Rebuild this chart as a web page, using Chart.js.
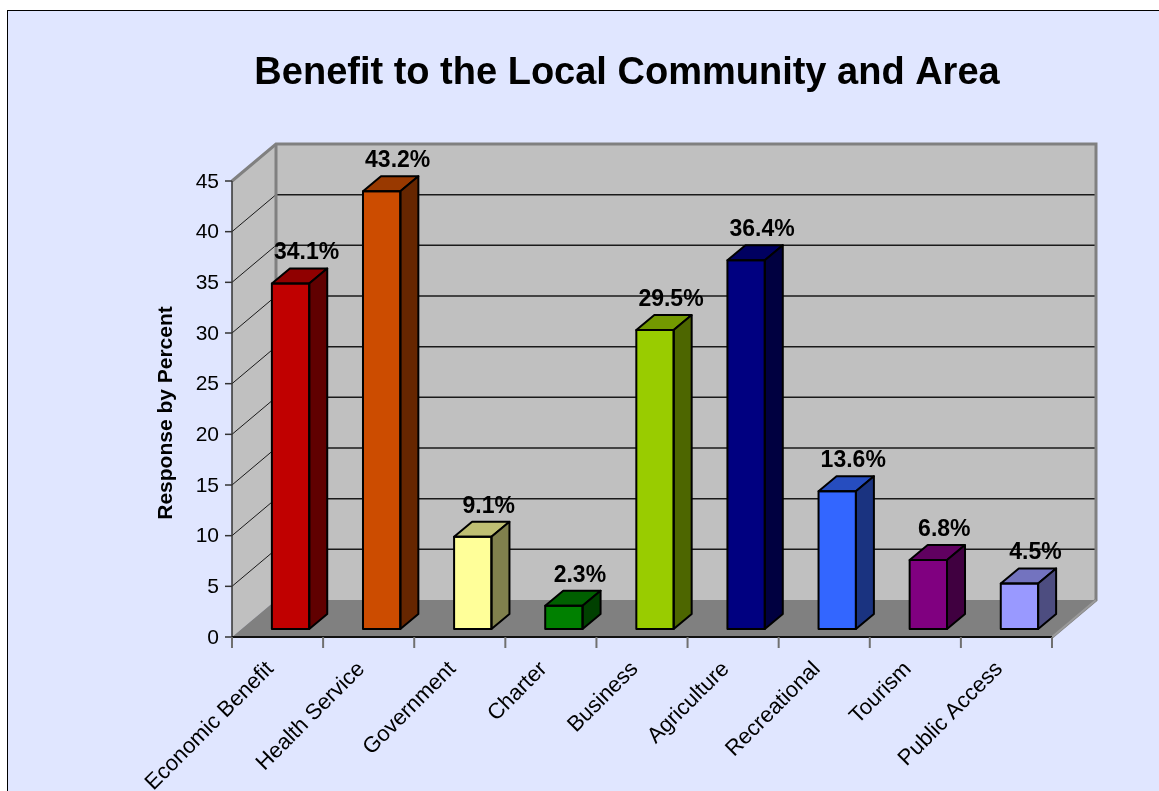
<!DOCTYPE html>
<html>
<head>
<meta charset="utf-8">
<title>Benefit to the Local Community and Area</title>
<script src="https://cdn.jsdelivr.net/npm/chart.js@4"></script>
<style>
    html, body { margin: 0; background: #ffffff; overflow: hidden; }
    #frame {
        position: absolute; left: 7px; top: 10px;
        width: 1170px; height: 800px;
        border: 1px solid #000; background: #e0e6ff;
    }
    #chart { position: absolute; left: 0; top: 0; }
</style>
</head>
<body>
<div id="frame"></div>
<canvas id="chart" width="1159" height="791"></canvas>
<script>
// Data
const categories = ['Economic Benefit', 'Health Service', 'Government', 'Charter', 'Business',
                    'Agriculture', 'Recreational', 'Tourism', 'Public Access'];
const percentValues = [34.1, 43.2, 9.1, 2.3, 29.5, 36.4, 13.6, 6.8, 4.5];
const barColors = ['#c00000', '#cc4c00', '#ffff99', '#008000', '#99cc00',
                   '#000080', '#3366ff', '#800080', '#9999ff'];
const yTicks = [0, 5, 10, 15, 20, 25, 30, 35, 40, 45];

// 3D look (pixels)
const WALL = { dx: 44, dy: -37 };   // depth of the walls
const SHIFT = { dx: 13, dy: -8 };   // bars sit this far behind the front plane
const BAR = { dx: 18, dy: -15 };    // depth of each bar

// darken a hex colour for top / side faces
function shade(hex, f) {
    const n = parseInt(hex.slice(1), 16);
    const r = Math.round(((n >> 16) & 255) * f);
    const g = Math.round(((n >> 8) & 255) * f);
    const b = Math.round((n & 255) * f);
    return `rgb(${r}, ${g}, ${b})`;
}

function poly(ctx, pts, fill, stroke, lw) {
    ctx.beginPath();
    ctx.moveTo(pts[0][0], pts[0][1]);
    for (let i = 1; i < pts.length; i++) ctx.lineTo(pts[i][0], pts[i][1]);
    ctx.closePath();
    if (fill) { ctx.fillStyle = fill; ctx.fill(); }
    if (stroke) { ctx.strokeStyle = stroke; ctx.lineWidth = lw; ctx.stroke(); }
}

function line(ctx, x1, y1, x2, y2, color, lw) {
    ctx.beginPath();
    ctx.moveTo(x1, y1);
    ctx.lineTo(x2, y2);
    ctx.strokeStyle = color;
    ctx.lineWidth = lw;
    ctx.stroke();
}

const box3d = {
    id: 'box3d',
    beforeDatasetsDraw(chart) {
        const ctx = chart.ctx;
        const ca = chart.chartArea;
        const yScale = chart.scales.y;
        const xScale = chart.scales.x;

        // front plane of the plot box
        const L = ca.left - SHIFT.dx;
        const R = ca.right - SHIFT.dx;
        const fy = v => yScale.getPixelForValue(v) - SHIFT.dy;
        const B = fy(0), T = fy(45);

        ctx.save();
        ctx.lineJoin = 'miter';

        // back wall, side wall, floor
        poly(ctx, [[L + WALL.dx, T + WALL.dy], [R + WALL.dx, T + WALL.dy],
                   [R + WALL.dx, B + WALL.dy], [L + WALL.dx, B + WALL.dy]], '#c0c0c0');
        poly(ctx, [[L, T], [L + WALL.dx, T + WALL.dy], [L + WALL.dx, B + WALL.dy], [L, B]], '#c0c0c0');
        poly(ctx, [[L, B], [R, B], [R + WALL.dx, B + WALL.dy], [L + WALL.dx, B + WALL.dy]], '#808080');

        // gridlines
        yTicks.forEach(v => {
            if (v === 0 || v === 45) return;
            const yy = fy(v);
            line(ctx, L + WALL.dx, yy + WALL.dy, R + WALL.dx, yy + WALL.dy, '#1a1a1a', 1.5);
            line(ctx, L, yy, L + WALL.dx, yy + WALL.dy, '#1a1a1a', 1);
        });

        // wall edges
        ctx.beginPath();
        ctx.moveTo(L, T);
        ctx.lineTo(L + WALL.dx, T + WALL.dy);
        ctx.lineTo(R + WALL.dx, T + WALL.dy);
        ctx.lineTo(R + WALL.dx, B + WALL.dy);
        ctx.lineTo(R, B);
        ctx.strokeStyle = '#808080';
        ctx.lineWidth = 3;
        ctx.stroke();
        line(ctx, L + WALL.dx, T + WALL.dy, L + WALL.dx, B + WALL.dy, '#808080', 3);
        line(ctx, R + WALL.dx, B + WALL.dy, R, B, '#9a9a9a', 2);

        // axes
        line(ctx, L, T, L, B, '#333', 1.5);
        line(ctx, L, B, R, B, '#111', 2);

        // y ticks and labels
        ctx.fillStyle = '#000';
        ctx.font = '21px Arial, "Liberation Sans", sans-serif';
        ctx.textAlign = 'right';
        ctx.textBaseline = 'middle';
        yTicks.forEach(v => {
            const yy = fy(v);
            line(ctx, L - 7, yy, L, yy, '#333', 1.5);
            ctx.fillText(String(v), L - 13, yy + 1);
        });

        // x ticks
        const step = (R - L) / categories.length;
        for (let i = 0; i <= categories.length; i++) {
            const xx = L + i * step;
            line(ctx, xx, B, xx, B + 11, '#707070', 2);
        }

        // x labels, rotated
        ctx.font = '22px Arial, "Liberation Sans", sans-serif';
        ctx.textAlign = 'right';
        ctx.textBaseline = 'alphabetic';
        categories.forEach((c, i) => {
            const cx = xScale.getPixelForValue(i) - SHIFT.dx;
            ctx.save();
            ctx.translate(cx - 3, B + 33);
            ctx.rotate(-Math.PI / 4);
            ctx.fillText(c, 0, 0);
            ctx.restore();
        });

        // axis title
        ctx.save();
        ctx.font = 'bold 21px Arial, "Liberation Sans", sans-serif';
        ctx.textAlign = 'center';
        ctx.textBaseline = 'middle';
        ctx.translate(166, 413);
        ctx.rotate(-Math.PI / 2);
        ctx.fillText('Response by Percent', 0, 0);
        ctx.restore();

        // chart title
        ctx.font = 'bold 38px Arial, "Liberation Sans", sans-serif';
        ctx.textAlign = 'center';
        ctx.textBaseline = 'alphabetic';
        ctx.fillText('Benefit to the Local Community and Area', 627, 84);

        ctx.restore();
    },
    afterDatasetsDraw(chart) {
        const ctx = chart.ctx;
        const meta = chart.getDatasetMeta(0);
        ctx.save();
        ctx.lineJoin = 'round';
        meta.data.forEach((el, i) => {
            const { x, y, base, width } = el.getProps(['x', 'y', 'base', 'width'], true);
            const l = x - width / 2, r = x + width / 2;
            const col = barColors[i];
            // top face
            poly(ctx, [[l, y], [r, y], [r + BAR.dx, y + BAR.dy], [l + BAR.dx, y + BAR.dy]],
                 shade(col, 0.75), '#000', 2);
            // side face
            poly(ctx, [[r, y], [r + BAR.dx, y + BAR.dy], [r + BAR.dx, base + BAR.dy], [r, base]],
                 shade(col, 0.5), '#000', 2);
            // front outline
            poly(ctx, [[l, y], [r, y], [r, base], [l, base]], null, '#000', 2);

            // value label
            ctx.fillStyle = '#000';
            ctx.font = 'bold 23px Arial, "Liberation Sans", sans-serif';
            ctx.textAlign = 'center';
            ctx.textBaseline = 'alphabetic';
            ctx.fillText(percentValues[i] + '%', x + 16, y - 24);
        });
        ctx.restore();
    }
};

const ctx = document.getElementById('chart').getContext('2d');
new Chart(ctx, {
    type: 'bar',
    data: {
        labels: categories,
        datasets: [{
            data: percentValues,
            backgroundColor: barColors,
            borderWidth: 0,
            barPercentage: 0.41,
            categoryPercentage: 1
        }]
    },
    options: {
        responsive: false,
        animation: false,
        layout: { padding: { left: 245, right: 94, top: 173, bottom: 162 } },
        plugins: {
            legend: { display: false },
            tooltip: { enabled: false },
            title: { display: false }
        },
        scales: {
            x: { display: false, offset: true },
            y: { display: false, min: 0, max: 45 }
        }
    },
    plugins: [box3d]
});
</script>
</body>
</html>
